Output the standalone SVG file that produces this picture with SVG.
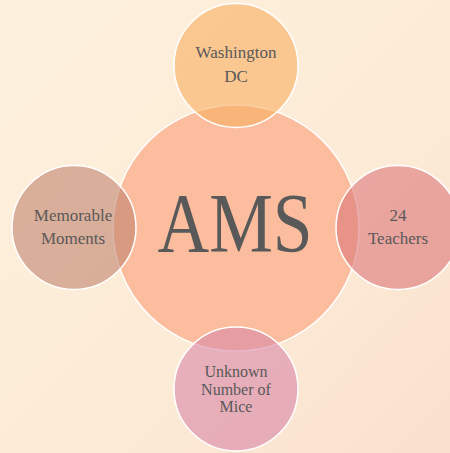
<svg xmlns="http://www.w3.org/2000/svg" width="450" height="453" viewBox="0 0 450 453">
  <defs>
    <linearGradient id="bg" x1="0" y1="0" x2="1" y2="1">
      <stop offset="0" stop-color="#FDF1DD"/>
      <stop offset="0.6" stop-color="#FCEBD6"/>
      <stop offset="1" stop-color="#FAE0CE"/>
    </linearGradient>
    <style>
      .sat { stroke: #FFFFFF; stroke-width: 1.5; fill-opacity: 0.6; }
      .lbl { font-family: "Liberation Serif", "DejaVu Serif", serif; font-size: 17px; fill: #595959; text-anchor: middle; }
      .sm { font-size: 16px; }
    </style>
  </defs>
  <rect width="450" height="453" fill="url(#bg)"/>
  <g id="center">
    <circle cx="236" cy="228" r="123" fill="#FBBD9D" stroke="#FFFFFF" stroke-width="1.5"/>
    <text x="235" y="252" font-family="Liberation Serif, DejaVu Serif, serif" font-size="84" fill="#595959" text-anchor="middle" textLength="155" lengthAdjust="spacingAndGlyphs">AMS</text>
  </g>
  <g id="top">
    <circle class="sat" cx="236" cy="65.5" r="62" fill="#F9AD61"/>
    <text class="lbl" x="236" y="58">Washington</text>
    <text class="lbl" x="236" y="82">DC</text>
  </g>
  <g id="left">
    <circle class="sat" cx="74" cy="227.5" r="62" fill="#C1846F"/>
    <text class="lbl" x="73" y="221">Memorable</text>
    <text class="lbl" x="73" y="244">Moments</text>
  </g>
  <g id="right">
    <circle class="sat" cx="398" cy="227.5" r="62" fill="#DC7679"/>
    <text class="lbl" x="398" y="221">24</text>
    <text class="lbl" x="398" y="244">Teachers</text>
  </g>
  <g id="bottom">
    <circle class="sat" cx="236" cy="389" r="62" fill="#D987A7"/>
    <text class="lbl sm" x="236" y="377">Unknown</text>
    <text class="lbl sm" x="236" y="394.5">Number of</text>
    <text class="lbl sm" x="236" y="412">Mice</text>
  </g>
  <g id="connectors"></g>
</svg>
